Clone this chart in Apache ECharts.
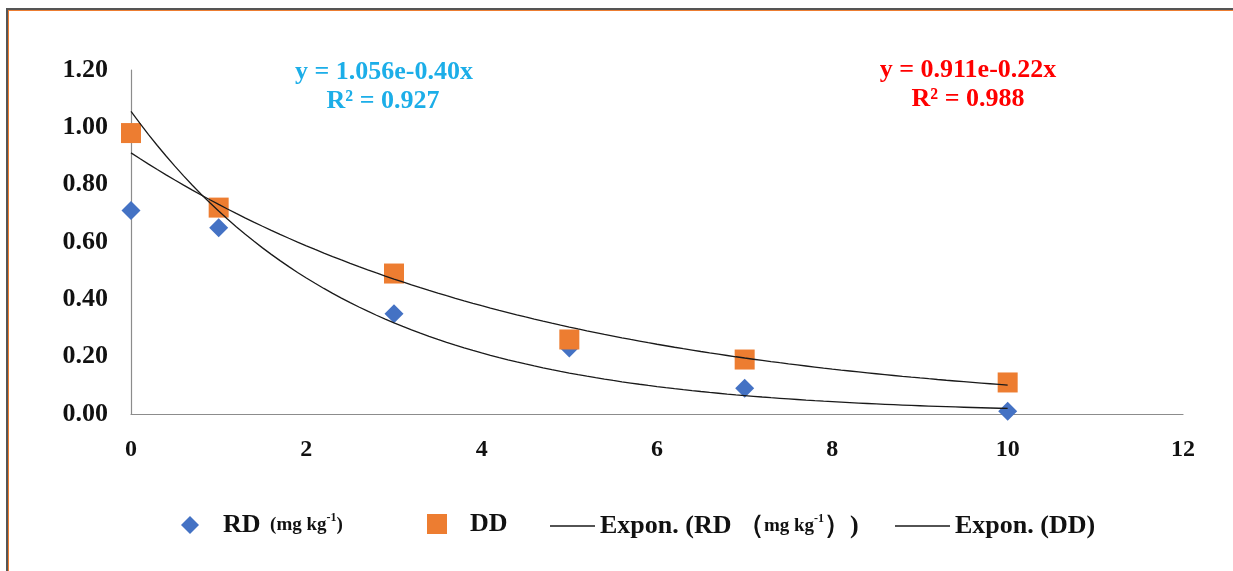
<!DOCTYPE html>
<html>
<head>
<meta charset="utf-8">
<script src="https://cdn.jsdelivr.net/npm/echarts@6/dist/echarts.min.js"></script>
<style>
html,body{margin:0;padding:0;background:#fff;}
#chart{width:1233px;height:571px;}
</style>
</head>
<body>
<div id="chart"></div>
<script>
// ---- data ----
const xValues = [0, 1, 3, 5, 7, 10];
const rdValues = [0.71, 0.65, 0.35, 0.23, 0.09, 0.01];
const ddValues = [0.98, 0.72, 0.49, 0.26, 0.19, 0.11];
// exponential fit coefficients shown on the chart: y = a * e^(b x)
const rdFit = [1.056, -0.40];
const ddFit = [0.911, -0.22];
const fitRange = [0, 10];
const xTicks = [0, 2, 4, 6, 8, 10, 12];
const yTicks = [0.00, 0.20, 0.40, 0.60, 0.80, 1.00, 1.20];
const rdEquation = ['y = 1.056e-0.40x', 'R² = 0.927'];
const ddEquation = ['y = 0.911e-0.22x', 'R² = 0.988'];

const FONT = '"Liberation Serif", "Times New Roman", serif';

function fitLine(coef) {
  const pts = [];
  const n = 100;
  for (let i = 0; i <= n; i++) {
    const x = fitRange[0] + (fitRange[1] - fitRange[0]) * i / n;
    pts.push([x, coef[0] * Math.exp(coef[1] * x)]);
  }
  return pts;
}

const rdName = 'RD (mg kg-1)';
const ddName = 'DD';
const rdFitName = 'Expon. (RD (mg kg-1))';
const ddFitName = 'Expon. (DD)';

const rich = {
  big: {fontFamily: FONT, fontWeight: 'bold', fontSize: 26, color: '#111'},
  sm: {fontFamily: FONT, fontWeight: 'bold', fontSize: 19, color: '#111'},
  sup: {fontFamily: FONT, fontWeight: 'bold', fontSize: 12, color: '#111', verticalAlign: 'top', padding: [0, 0, 10, 0]},
  sp1: {width: 19},
  sp2: {width: 18}
};

const legendBase = {
  orient: 'horizontal',
  top: 510,
  padding: 0,
  itemGap: 0,
  selectedMode: false,
  textStyle: {rich: rich, fontFamily: FONT, fontWeight: 'bold', fontSize: 26, color: '#111'}
};

const lineIcon = 'rect';

const chart = echarts.init(document.getElementById('chart'), null, {renderer: 'canvas'});
chart.setOption({
  backgroundColor: '#fff',
  animation: false,
  grid: {left: 131, right: 50, top: 70, bottom: 157},
  xAxis: {
    type: 'value', min: 0, max: 12, interval: 2,
    axisLine: {show: true, lineStyle: {color: '#8c8c8c', width: 1.2}},
    axisTick: {show: false},
    splitLine: {show: false},
    axisLabel: {margin: 24, fontFamily: FONT, fontWeight: 'bold', fontSize: 24, color: '#111',
      formatter: v => xTicks.includes(v) ? String(v) : ''}
  },
  yAxis: {
    type: 'value', min: 0, max: 1.2, interval: 0.2,
    axisLine: {show: true, lineStyle: {color: '#8c8c8c', width: 1.2}},
    axisTick: {show: false},
    splitLine: {show: false},
    axisLabel: {margin: 23, fontFamily: FONT, fontWeight: 'bold', fontSize: 26, color: '#111',
      formatter: v => {
        const t = yTicks.find(k => Math.abs(k - v) < 1e-9);
        return t === undefined ? '' : t.toFixed(2);
      }}
  },
  legend: [
    Object.assign({}, legendBase, {left: 181, top: 512, data: [{name: rdName, icon: 'diamond'}], itemWidth: 18, itemHeight: 18,
      formatter: () => '{sp1|}{big|RD}{sm|  (mg kg}{sup|-1}{sm|)}'}),
    Object.assign({}, legendBase, {left: 427, top: 511, data: [{name: ddName, icon: 'rect'}], itemWidth: 20, itemHeight: 20,
      formatter: () => '{sp2|}{big|DD}'}),
    Object.assign({}, legendBase, {left: 550, top: 513, data: [{name: rdFitName, icon: lineIcon, itemStyle: {color: '#1a1a1a'}}], itemWidth: 45, itemHeight: 1.4,
      formatter: () => '{big|Expon. (RD （}{sm|mg kg}{sup|-1}{big|）)}'}),
    Object.assign({}, legendBase, {left: 895, top: 513, data: [{name: ddFitName, icon: lineIcon, itemStyle: {color: '#1a1a1a'}}], itemWidth: 55, itemHeight: 1.4,
      formatter: () => '{big|Expon. (DD)}'})
  ],
  series: [
    {
      name: rdName, type: 'scatter', symbol: 'diamond', symbolSize: [19, 19],
      itemStyle: {color: '#4472C4', opacity: 1}, z: 3,
      data: xValues.map((x, i) => [x, rdValues[i]])
    },
    {
      name: ddName, type: 'scatter', symbol: 'rect', symbolSize: [20, 20],
      itemStyle: {color: '#ED7D31', opacity: 1}, z: 4,
      data: xValues.map((x, i) => [x, ddValues[i]])
    },
    {
      name: rdFitName, type: 'line', showSymbol: false, symbol: 'none', z: 5,
      lineStyle: {color: '#1a1a1a', width: 1.3}, itemStyle: {color: '#1a1a1a'},
      data: fitLine(rdFit)
    },
    {
      name: ddFitName, type: 'line', showSymbol: false, symbol: 'none', z: 5,
      lineStyle: {color: '#1a1a1a', width: 1.3}, itemStyle: {color: '#1a1a1a'},
      data: fitLine(ddFit)
    }
  ],
  graphic: [
    {type: 'rect', shape: {x: 6, y: 8, width: 1240, height: 2}, style: {fill: '#555555'}, silent: true},
    {type: 'rect', shape: {x: 8, y: 10, width: 1240, height: 1}, style: {fill: '#ED7D31'}, silent: true},
    {type: 'rect', shape: {x: 6, y: 8, width: 2, height: 600}, style: {fill: '#555555'}, silent: true},
    {type: 'rect', shape: {x: 8, y: 10, width: 1, height: 600}, style: {fill: '#ED7D31'}, silent: true},
    {type: 'text', x: 384, y: 72, style: {text: rdEquation[0], align: 'center', verticalAlign: 'middle', fill: '#1CAEE8', font: 'bold 26px ' + FONT}},
    {type: 'text', x: 383, y: 101, style: {text: rdEquation[1], align: 'center', verticalAlign: 'middle', fill: '#1CAEE8', font: 'bold 26px ' + FONT}},
    {type: 'text', x: 968, y: 70, style: {text: ddEquation[0], align: 'center', verticalAlign: 'middle', fill: '#FF0000', font: 'bold 26px ' + FONT}},
    {type: 'text', x: 968, y: 99, style: {text: ddEquation[1], align: 'center', verticalAlign: 'middle', fill: '#FF0000', font: 'bold 26px ' + FONT}}
  ]
});
</script>
</body>
</html>
